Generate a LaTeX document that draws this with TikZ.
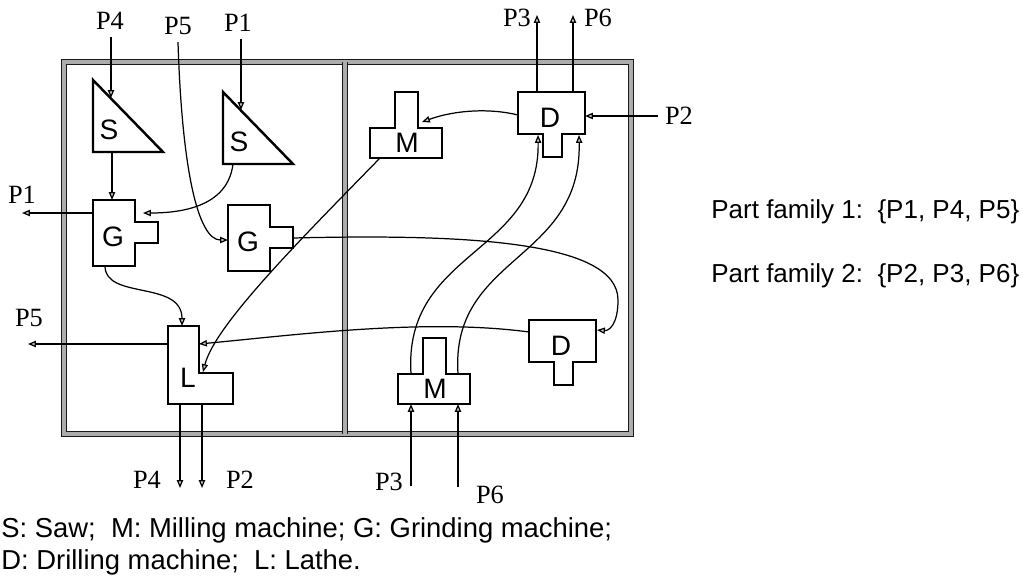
\documentclass[tikz,border=0pt]{standalone}
\usepackage{fontspec}
\setmainfont{Liberation Serif}
\setsansfont{Liberation Sans}
\usetikzlibrary{arrows.meta, positioning, calc}

\tikzset{
    wall/.style={draw=black!90, line width=0.6pt, double=gray!65, double distance=1.9pt},
    machine/.style={draw, line width=1.4pt, fill=white},
    mlabel/.style={font=\sffamily\fontsize{16}{18}\selectfont, inner sep=0pt},
    part/.style={font=\fontsize{15}{17}\selectfont, inner sep=4pt},
    flow/.style={line width=0.7pt, -{Triangle[length=4.5pt, width=3.6pt, fill=gray!40]}},
    note/.style={font=\sffamily\fontsize{14.8}{17}\selectfont, anchor=base west, inner sep=0pt},
    key/.style={note, font=\sffamily\fontsize{15.6}{18}\selectfont},
    % machine outlines, origin at top left
    saw/.pic={
        \draw[machine] (0,0) -- (0,72) -- (70,72) -- cycle;
        \node[mlabel] (-lbl) at (16,50) {S};
        \coordinate (-hyp) at (18,18);
        \coordinate (-s) at (19,72);
        \coordinate (-sw) at (10,72);
    },
    grinder/.pic={
        \draw[machine] (0,0) -- (42,0) -- (42,22) -- (65,22) -- (65,43) -- (42,43) -- (42,66) -- (0,66) -- cycle;
        \node[mlabel] (-lbl) at (20,37) {G};
        \coordinate (-n) at (19,0);
        \coordinate (-w) at (0,13);
        \coordinate (-wl) at (0,35);
        \coordinate (-ne) at (50,13);
        \coordinate (-e) at (65,33);
        \coordinate (-s) at (12,66);
    },
    lathe/.pic={
        \draw[machine] (0,0) -- (31,0) -- (31,47) -- (65,47) -- (65,78) -- (0,78) -- cycle;
        \node[mlabel] (-lbl) at (20,52) {L};
        \coordinate (-n) at (14,0);
        \coordinate (-w) at (0,18);
        \coordinate (-e) at (31,18);
        \coordinate (-in) at (35,46);
        \coordinate (-s1) at (12,78);
        \coordinate (-s2) at (34,78);
    },
    mill/.pic={
        \draw[machine] (25,0) -- (48,0) -- (48,36) -- (72,36) -- (72,66) -- (0,66) -- (0,36) -- (25,36) -- cycle;
        \node[mlabel] (-lbl) at (37,51) {M};
        \coordinate (-ne) at (52,30);
        \coordinate (-sw) at (10,66);
        \coordinate (-t1) at (13,36);
        \coordinate (-t2) at (60,36);
        \coordinate (-b1) at (13,66);
        \coordinate (-b2) at (60,66);
    },
    drill/.pic={
        \draw[machine] (0,0) -- (67,0) -- (67,42) -- (44,42) -- (44,65) -- (25,65) -- (25,42) -- (0,42) -- cycle;
        \node[mlabel] (-lbl) at (32,26) {D};
        \coordinate (-w) at (0,23);
        \coordinate (-wn) at (0,12);
        \coordinate (-e) at (67,24);
        \coordinate (-en) at (68,10);
        \coordinate (-n1) at (19,0);
        \coordinate (-n2) at (55,0);
        \coordinate (-s1) at (20,43);
        \coordinate (-s2) at (61,43);
    },
}

\begin{document}
\begin{tikzpicture}[x=0.02cm, y=-0.02cm]
    \useasboundingbox (0,0) rectangle (1031,582);

    % Cells
    \draw[wall] (64,62) rectangle (631,434);
    \draw[wall] (345,62) -- (345,434);

    % Cell 1
    \pic (s1) at (93,80) {saw};
    \pic (s2) at (223,92) {saw};
    \pic (g1) at (93,200) {grinder};
    \pic (g2) at (228,205) {grinder};
    \pic (l1) at (168,326) {lathe};

    % Cell 2
    \pic (m1) at (370,92) {mill};
    \pic (d1) at (518,92) {drill};
    \pic (d2) at (529,320) {drill};
    \pic (m2) at (398,338) {mill};

    % Parts in and out
    \node[part] (p4in) at (110,21) {P4};
    \node[part] (p5in) at (178,26) {P5};
    \node[part] (p1in) at (238,23) {P1};
    \node[part] (p2in) at (679,116) {P2};
    \node[part] (p1out) at (22,195) {P1};
    \node[part] (p5out) at (29,318) {P5};
    \node[part] (p4out) at (147,480) {P4};
    \node[part] (p2out) at (240,480) {P2};
    \node[part] (p3out) at (517,18) {P3};
    \node[part] (p6out) at (598,18) {P6};
    \node[part] (p3in) at (389,482) {P3};
    \node[part] (p6in) at (490,495) {P6};
    \coordinate (p1end) at (22,213);
    \coordinate (p5end) at (28,344);
    \coordinate (p4end) at (180,488);
    \coordinate (p2end) at (202,488);
    \coordinate (p3end) at (537,15);
    \coordinate (p6end) at (573,15);
    \coordinate (p3beg) at (411,486);
    \coordinate (p6beg) at (458,487);

    % Flows, family 1
    \draw[flow] (p4in.south -| s1-hyp) -- (s1-hyp);
    \draw[flow] (p1in.south -| s2-hyp) -- (s2-hyp);
    \draw[flow] (p5in.south) .. controls (182,170) and (198,240) .. (g2-wl);
    \draw[flow] (s1-s) -- (g1-n);
    \draw[flow] (g1-w) -- (p1end);
    \draw[flow] (s2-sw) .. controls (228,205) and (185,213) .. (g1-ne);
    \draw[flow] (g1-s) .. controls (105,300) and (182,280) .. (l1-n);
    \draw[flow] (l1-w) -- (p5end);
    \draw[flow] (l1-s1) -- (p4end);
    \draw[flow] (l1-s2) -- (p2end);

    % Flows, family 2
    \draw[flow] (p2in.west) -- (d1-e);
    \draw[flow] (d1-w) .. controls (490,108) and (455,110) .. (m1-ne);
    \draw[flow] (m1-sw) .. controls (300,240) and (215,325) .. (l1-in);
    \draw[flow] (g2-e) .. controls (460,234) and (618,240) .. (618,300)
        .. controls (618,326) and (608,331) .. (d2-en);
    \draw[flow] (d2-wn) .. controls (425,318) and (295,335) .. (l1-e);
    \draw[flow] (p3beg) -- (m2-b1);
    \draw[flow] (p6beg) -- (m2-b2);
    \draw[flow] (m2-t1) .. controls (403,250) and (540,255) .. (d1-s1);
    \draw[flow] (m2-t2) .. controls (450,255) and (582,262) .. (d1-s2);
    \draw[flow] (d1-n1) -- (p3end);
    \draw[flow] (d1-n2) -- (p6end);

    % Families and key
    \node[note] (fam1) at (711,218) {Part family 1:\ \ \{P1, P4, P5\}};
    \node[note] (fam2) at (711,282) {Part family 2:\ \ \{P2, P3, P6\}};
    \node[key] (key1) at (1,537) {S: Saw;\ \ M: Milling machine; G: Grinding machine;};
    \node[key] (key2) at (1,569) {D: Drilling machine;\ \ L: Lathe.};
\end{tikzpicture}
\end{document}
